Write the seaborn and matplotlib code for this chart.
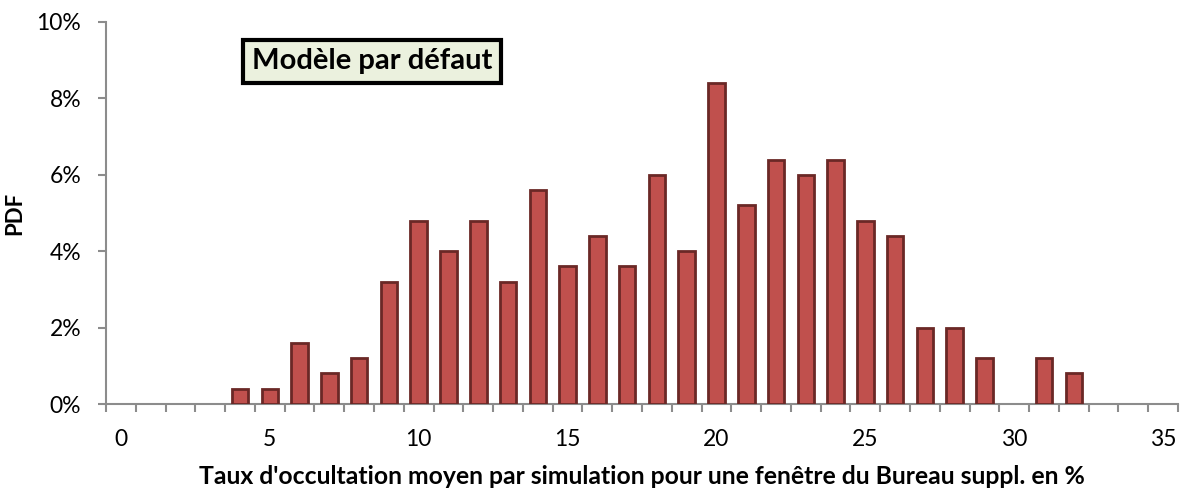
import matplotlib
matplotlib.use("Agg")
import matplotlib.pyplot as plt
from matplotlib.ticker import FixedLocator, FuncFormatter
import seaborn as sns
import pandas as pd

# Average shading rate per simulation (%) and its probability (%)
rates = [4, 5, 6, 7, 8, 9, 10, 11, 12, 13, 14, 15, 16, 17, 18,
         19, 20, 21, 22, 23, 24, 25, 26, 27, 28, 29, 30, 31, 32]
pdf_pct = [0.4, 0.4, 1.6, 0.8, 1.2, 3.2, 4.8, 4.0, 4.8, 3.2, 5.6, 3.6, 4.4, 3.6, 6.0,
           4.0, 8.4, 5.2, 6.4, 6.0, 6.4, 4.8, 4.4, 2.0, 2.0, 1.2, 0.0, 1.2, 0.8]
x_labels = [0, 5, 10, 15, 20, 25, 30, 35]
y_ticks = [0, 2, 4, 6, 8, 10]

sns.set_theme(style="white")
plt.rcParams["font.family"] = ["Lato", "DejaVu Sans"]
plt.rcParams["text.color"] = "black"

df = pd.DataFrame({"rate": rates, "pdf": pdf_pct})
df = df[df["pdf"] > 0]

fig = plt.figure(figsize=(11.86, 4.93), dpi=100)
ax = fig.add_axes([0.0894, 0.1805, 0.9039, 0.7749])

sns.barplot(data=df, x="rate", y="pdf", native_scale=True, width=0.555,
            color="#C0504D", saturation=1, edgecolor="#6A2826", linewidth=2.0,
            ax=ax, zorder=3)

ax.set_xlim(-0.5, 35.5)
ax.set_ylim(0, 10)

# Category-style axis: ticks between categories, labels every 5
ax.xaxis.set_major_locator(FixedLocator(x_labels))
ax.xaxis.set_minor_locator(FixedLocator([k - 0.5 for k in range(37)]))
ax.tick_params(axis="x", which="major", length=0, pad=18, labelsize=16.5, labelcolor="black")
ax.tick_params(axis="x", which="minor", length=6, width=1.5, color="#8C8C8C", bottom=True)

ax.yaxis.set_major_locator(FixedLocator(y_ticks))
ax.yaxis.set_major_formatter(FuncFormatter(lambda v, p: f"{v:.0f}%"))
ax.tick_params(axis="y", which="major", length=6, width=1.5, color="#8C8C8C",
               pad=12, labelsize=16.5, left=True, labelcolor="black")

for side in ("top", "right"):
    ax.spines[side].set_visible(False)
for side in ("left", "bottom"):
    ax.spines[side].set_color("#8C8C8C")
    ax.spines[side].set_linewidth(1.5)

ax.set_xlabel("Taux d'occultation moyen par simulation pour une fenêtre du Bureau suppl. en %",
              fontsize=17.8, fontweight="bold", color="black")
ax.xaxis.set_label_coords(0.5, -0.16)
ax.set_ylabel("PDF", fontsize=16, fontweight="bold", color="black")
ax.yaxis.set_label_coords(-0.075, 0.5)

ax.text(0.248, 0.897, "Modèle par défaut", transform=ax.transAxes,
        ha="center", va="center", fontsize=21, fontweight="bold", color="black",
        bbox=dict(boxstyle="square,pad=0.3", facecolor="#EBF1DE",
                  edgecolor="black", linewidth=3), zorder=5)

fig.savefig("out.png", dpi=100)
